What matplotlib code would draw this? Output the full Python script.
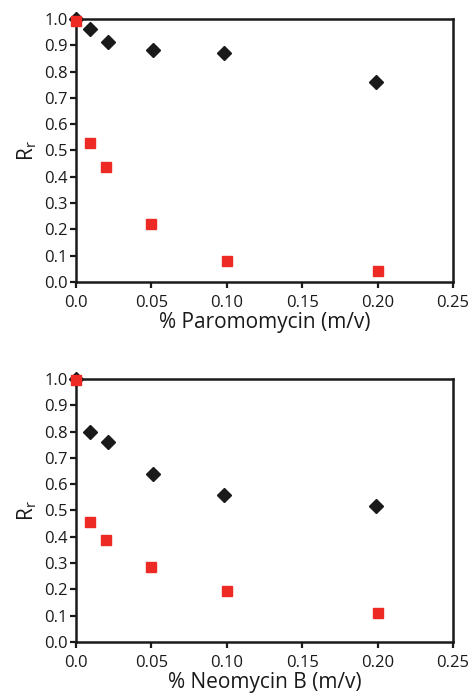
import matplotlib.pyplot as plt

plt.rcParams["font.family"] = ["Open Sans", "DejaVu Sans"]

# Paromomycin panel
paro_x_black = [0.0, 0.009, 0.021, 0.051, 0.098, 0.199]
paro_y_black = [1.0, 0.962, 0.911, 0.881, 0.872, 0.759]
paro_x_red = [0.0, 0.009, 0.020, 0.050, 0.100, 0.200]
paro_y_red = [0.994, 0.527, 0.436, 0.222, 0.081, 0.041]

# Neomycin B panel
neo_x_black = [0.0, 0.009, 0.021, 0.051, 0.098, 0.199]
neo_y_black = [1.0, 0.800, 0.759, 0.640, 0.558, 0.518]
neo_x_red = [0.0, 0.009, 0.020, 0.050, 0.100, 0.200]
neo_y_red = [0.996, 0.457, 0.386, 0.284, 0.193, 0.112]

x_ticks = [0.0, 0.05, 0.10, 0.15, 0.20, 0.25]
x_tick_labels = ["0.0", "0.05", "0.10", "0.15", "0.20", "0.25"]
y_ticks = [i / 10 for i in range(11)]
y_tick_labels = [f"{v:.1f}" for v in y_ticks]

BLACK = "#1a1a1a"
RED = "#ee2a24"


def draw_panel(ax, xb, yb, xr, yr, xlabel):
    ax.plot(xb, yb, linestyle="none", marker="D", markersize=7.0,
            color=BLACK, clip_on=False, zorder=3)
    ax.plot(xr, yr, linestyle="none", marker="s", markersize=7.0,
            color=RED, clip_on=False, zorder=4)
    ax.set_xlim(0, 0.25)
    ax.set_ylim(0, 1.0)
    ax.set_xticks(x_ticks)
    ax.set_xticklabels(x_tick_labels)
    ax.set_yticks(y_ticks)
    ax.set_yticklabels(y_tick_labels)
    ax.tick_params(axis="both", direction="out", length=4.3, width=1.6,
                   labelsize=12, color=BLACK, labelcolor=BLACK, pad=1.5)
    ax.tick_params(axis="x", pad=5)
    for spine in ax.spines.values():
        spine.set_linewidth(1.8)
        spine.set_color(BLACK)
    ax.set_xlabel(xlabel, fontsize=15, labelpad=1, color=BLACK)
    ax.set_ylabel(r"R$_\mathregular{r}$", fontsize=15, labelpad=4, color=BLACK)


fig = plt.figure(figsize=(4.74, 6.93), dpi=100, facecolor="white")
ax_top = fig.add_axes([0.1603, 0.5931, 0.7954, 0.3795])
ax_bot = fig.add_axes([0.1603, 0.0736, 0.7954, 0.3795])

draw_panel(ax_top, paro_x_black, paro_y_black, paro_x_red, paro_y_red,
           "% Paromomycin (m/v)")
draw_panel(ax_bot, neo_x_black, neo_y_black, neo_x_red, neo_y_red,
           "% Neomycin B (m/v)")

fig.savefig("out.png", dpi=100)
